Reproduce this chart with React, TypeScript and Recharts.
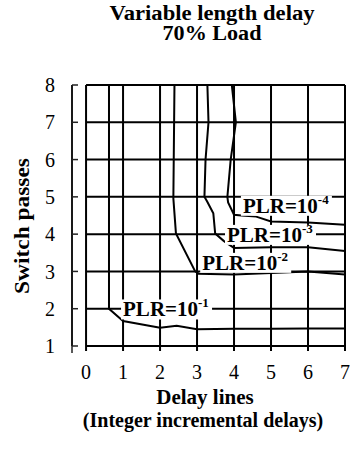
import {
  ComposedChart,
  Line,
  Scatter,
  XAxis,
  YAxis,
  CartesianGrid,
  ReferenceLine,
} from "recharts";

const xTicks = [0, 1, 2, 3, 4, 5, 6, 7];
const yTicks = [1, 2, 3, 4, 5, 6, 7, 8];

// contour lines (x = delay lines, y = switch passes)
const plr1 = [
  { x: 0.62, y: 8 },
  { x: 0.62, y: 2.0 },
  { x: 1.0, y: 1.67 },
  { x: 2.0, y: 1.49 },
  { x: 2.45, y: 1.54 },
  { x: 3.0, y: 1.45 },
  { x: 4, y: 1.46 },
  { x: 5, y: 1.46 },
  { x: 6, y: 1.47 },
  { x: 7, y: 1.47 },
];
const plr2 = [
  { x: 2.39, y: 8 },
  { x: 2.36, y: 4.96 },
  { x: 2.43, y: 4.02 },
  { x: 2.95, y: 3.0 },
  { x: 3.04, y: 2.94 },
  { x: 4, y: 2.92 },
  { x: 5, y: 2.96 },
  { x: 6, y: 3.0 },
  { x: 7, y: 2.92 },
];
const plr3 = [
  { x: 3.28, y: 8 },
  { x: 3.31, y: 7 },
  { x: 3.23, y: 6 },
  { x: 3.2, y: 5.0 },
  { x: 3.27, y: 4.88 },
  { x: 3.44, y: 4.56 },
  { x: 3.49, y: 4.02 },
  { x: 3.72, y: 3.82 },
  { x: 4.0, y: 3.63 },
  { x: 5, y: 3.65 },
  { x: 6, y: 3.65 },
  { x: 7, y: 3.55 },
];
const plr4 = [
  { x: 3.94, y: 8 },
  { x: 4.05, y: 7 },
  { x: 3.91, y: 6 },
  { x: 3.82, y: 5.0 },
  { x: 3.84, y: 4.85 },
  { x: 4.0, y: 4.52 },
  { x: 4.2, y: 4.5 },
  { x: 4.6, y: 4.47 },
  { x: 5.0, y: 4.34 },
  { x: 6, y: 4.31 },
  { x: 7, y: 4.25 },
];

const plrLabels = [
  { x: 1.0, y: 1.98, exp: "-1" },
  { x: 3.14, y: 3.23, exp: "-2" },
  { x: 3.81, y: 3.98, exp: "-3" },
  { x: 4.24, y: 4.76, exp: "-4" },
];

const serif = "Liberation Serif, Times New Roman, serif";

function PlrLabel(props: any) {
  const { cx, cy, payload } = props;
  return (
    <g>
      <rect x={cx - 2} y={cy - 10} width={91} height={20} fill="#fff" />
      <text x={cx} y={cy + 7} style={{ fontFamily: serif }} fontWeight="bold" fontSize={21} fill="#000">
        PLR=10
        <tspan dy={-9} fontSize={13}>
          {payload.exp}
        </tspan>
      </text>
    </g>
  );
}

export default function App() {
  const lineProps = {
    type: "linear" as const,
    dataKey: "y",
    stroke: "#000",
    strokeWidth: 2,
    dot: false,
    activeDot: false,
    isAnimationActive: false,
  };
  return (
    <div
      style={{
        position: "absolute",
        left: 0,
        top: 0,
        width: 350,
        height: 450,
        background: "#fff",
        fontFamily: serif,
      }}
    >
      <ComposedChart width={350} height={450} margin={{ top: 85, right: 5, left: 0, bottom: 74 }}>
        <CartesianGrid horizontal={false} stroke="#000" strokeWidth={2} strokeOpacity={1} />
        <XAxis
          type="number"
          dataKey="x"
          domain={[-0.38, 7]}
          allowDataOverflow
          ticks={xTicks}
          axisLine={false}
          tickLine={{ stroke: "#000", strokeWidth: 2 }}
          tickSize={5}
          tickMargin={14}
          height={30}
          tick={{ fill: "#000", fontSize: 20, style: { fontFamily: serif } }}
        />
        <YAxis
          type="number"
          dataKey="y"
          domain={[1, 8]}
          allowDataOverflow
          ticks={yTicks}
          width={72}
          axisLine={{ stroke: "#222", strokeWidth: 1.5 }}
          tickLine={{ stroke: "#222", strokeWidth: 1.5 }}
          tickSize={-6}
          tickMargin={23}
          tick={{ fill: "#000", fontSize: 20, style: { fontFamily: serif } }}
        />
        {yTicks.map((v) => (
          <ReferenceLine
            key={v}
            segment={[
              { x: 0, y: v },
              { x: 7, y: v },
            ]}
            stroke="#000"
            strokeWidth={2}
          />
        ))}
        <ReferenceLine
          segment={[
            { x: -0.38, y: 1 },
            { x: -0.38, y: 0.81 },
          ]}
          ifOverflow="visible"
          stroke="#222"
          strokeWidth={1.5}
        />
        <Line data={plr1} {...lineProps} />
        <Line data={plr2} {...lineProps} />
        <Line data={plr3} {...lineProps} />
        <Line data={plr4} {...lineProps} />
        <Scatter data={plrLabels} dataKey="y" shape={PlrLabel} isAnimationActive={false} />
      </ComposedChart>
      <svg
        width={350}
        height={450}
        style={{ position: "absolute", left: 0, top: 0, pointerEvents: "none", fontFamily: serif }}
        fontWeight="bold"
        fontSize={20}
      >
        <text x={212} y={20} textAnchor="middle" textLength={205} lengthAdjust="spacingAndGlyphs">
          Variable length delay
        </text>
        <text x={212} y={40} textAnchor="middle" textLength={99} lengthAdjust="spacingAndGlyphs">
          70% Load
        </text>
        <text x={205} y={404} textAnchor="middle" fontSize={21}>Delay lines</text>
        <text x={203} y={427} textAnchor="middle">(Integer incremental delays)</text>
        <text
          x={29}
          y={226}
          textAnchor="middle"
          fontSize={21}
          transform="rotate(-90, 29, 226)"
          textLength={136}
          lengthAdjust="spacingAndGlyphs"
        >
          Switch passes
        </text>
      </svg>
    </div>
  );
}
